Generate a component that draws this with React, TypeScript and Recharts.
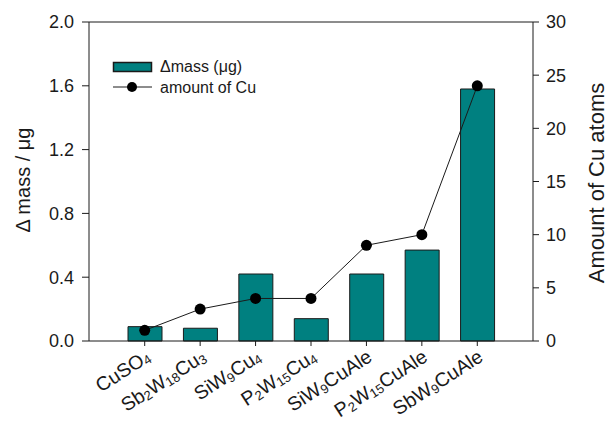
import { Bar, ComposedChart, Line, ReferenceLine, XAxis, YAxis } from 'recharts';

// "_n" marks a subscript in the formula
const compounds = ['CuSO_4', 'Sb_2W_18Cu_3', 'SiW_9Cu_4', 'P_2W_15Cu_4', 'SiW_9CuAle', 'P_2W_15CuAle', 'SbW_9CuAle'];
const massValues = [0.09, 0.08, 0.42, 0.14, 0.42, 0.57, 1.58];
const cuAtoms = [1, 3, 4, 4, 9, 10, 24];
const massTicks = [0, 0.4, 0.8, 1.2, 1.6, 2.0];
const cuTicks = [0, 5, 10, 15, 20, 25, 30];

const data = compounds.map((name, i) => ({ name, mass: massValues[i], cu: cuAtoms[i] }));

const FONT = '"Liberation Sans", Arial, sans-serif';
const INK = '#1a1a1a';
const TEAL = '#008080';

const FormulaTick = ({ x, y, payload }: any) => {
  const parts: string[] = String(payload.value).split(/_(\d+)/);
  return (
    <g transform={`translate(${x + 7},${y + 12})`}>
      <text transform="rotate(-33)" textAnchor="end" fontSize={19.5} fill={INK} fontFamily={FONT}>
        {parts.map((p, i) =>
          i % 2 ? (
            <tspan key={i} fontSize={13} dy={2}>{p}</tspan>
          ) : (
            <tspan key={i} dy={i ? -2 : 0}>{p}</tspan>
          )
        )}
      </text>
    </g>
  );
};

const LegendBox = () => (
  <svg width={609} height={425} style={{ position: 'absolute', left: 0, top: 0, pointerEvents: 'none' }}>
    <rect x={113.5} y={62.5} width={38} height={9} fill={TEAL} stroke={INK} strokeWidth={1.5} />
    <text x={160} y={72} fontSize={16} fill={INK} fontFamily={FONT}>Δmass (μg)</text>
    <line x1={113} y1={87} x2={152} y2={87} stroke={INK} strokeWidth={1} />
    <circle cx={132} cy={87} r={5} fill="#000" />
    <text x={160} y={93} fontSize={16} fill={INK} fontFamily={FONT}>amount of Cu</text>
  </svg>
);

export default function App() {
  return (
    <div style={{ position: 'absolute', left: 0, top: 0, width: 609, height: 425, background: '#fff', fontFamily: FONT }}>
      <ComposedChart width={609} height={425} data={data} margin={{ top: 22, right: 0, bottom: 0, left: 0 }}>
        <XAxis
          dataKey="name"
          height={84}
          padding={{ left: 28, right: 28 }}
          axisLine={{ stroke: INK }}
          tickLine={{ stroke: INK }}
          tickSize={5}
          interval={0}
          tick={<FormulaTick />}
        />
        <YAxis
          yAxisId="mass"
          width={89}
          domain={[0, 2]}
          ticks={massTicks}
          tickFormatter={(v: number) => v.toFixed(1)}
          axisLine={{ stroke: INK }}
          tickLine={{ stroke: INK }}
          tickSize={7}
          tickMargin={8}
          tick={{ fill: INK, fontSize: 18 }}
          label={{
            content: () => (
              <text transform="translate(30,180) rotate(-90)" textAnchor="middle" fontSize={20} fill={INK} fontFamily={FONT}>
                Δ mass / μg
              </text>
            ),
          }}
        />
        <YAxis
          yAxisId="cu"
          orientation="right"
          width={76}
          domain={[0, 30]}
          ticks={cuTicks}
          axisLine={{ stroke: INK }}
          tickLine={{ stroke: INK }}
          tickSize={6}
          tickMargin={7}
          tick={{ fill: INK, fontSize: 18 }}
          label={{
            content: () => (
              <text transform="translate(604,183) rotate(-90)" textAnchor="middle" fontSize={22} fill={INK} fontFamily={FONT}>
                Amount of Cu atoms
              </text>
            ),
          }}
        />
        <ReferenceLine yAxisId="mass" y={2} stroke={INK} />
        <Bar yAxisId="mass" dataKey="mass" barSize={34} fill={TEAL} stroke={INK} strokeWidth={1} isAnimationActive={false} />
        <Line
          yAxisId="cu"
          dataKey="cu"
          type="linear"
          stroke={INK}
          strokeWidth={1}
          dot={{ r: 5.5, fill: '#000', stroke: '#000', strokeWidth: 0 }}
          isAnimationActive={false}
        />
      </ComposedChart>
      <LegendBox />
    </div>
  );
}
